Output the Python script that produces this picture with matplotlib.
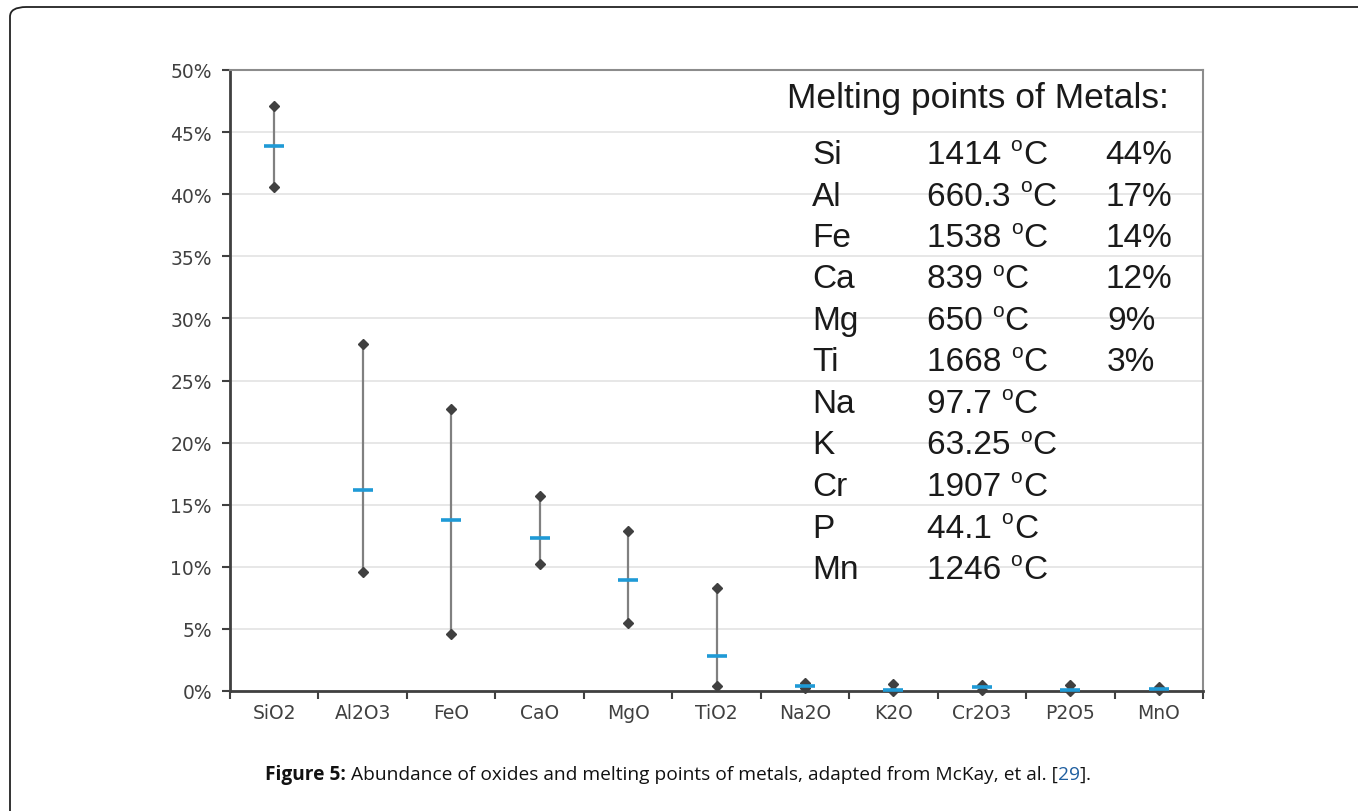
import matplotlib
matplotlib.use('Agg')
import matplotlib.pyplot as plt
from matplotlib.patches import FancyBboxPatch
import numpy as np

# oxide abundance ranges (percent)
oxides = ['SiO2', 'Al2O3', 'FeO', 'CaO', 'MgO', 'TiO2', 'Na2O', 'K2O', 'Cr2O3', 'P2O5', 'MnO']
ox_min = [40.6, 9.6, 4.6, 10.2, 5.5, 0.4, 0.25, 0.0, 0.1, 0.0, 0.05]
ox_mean = [43.85, 16.2, 13.8, 12.3, 8.95, 2.8, 0.4, 0.1, 0.3, 0.1, 0.15]
ox_max = [47.1, 27.9, 22.7, 15.7, 12.9, 8.3, 0.65, 0.55, 0.5, 0.5, 0.35]

y_ticks = [0, 5, 10, 15, 20, 25, 30, 35, 40, 45, 50]

# melting point table
metals = ['Si', 'Al', 'Fe', 'Ca', 'Mg', 'Ti', 'Na', 'K', 'Cr', 'P', 'Mn']
melt_temps = ['1414', '660.3', '1538', '839', '650', '1668', '97.7', '63.25', '1907', '44.1', '1246']
metal_pct = ['44%', '17%', '14%', '12%', '9%', '3%', '', '', '', '', '']

W, H = 1358, 812

fig = plt.figure(figsize=(W / 100, H / 100), dpi=100)
renderer = fig.canvas.get_renderer()

def px(x, y):
    return x / W, 1 - y / H

# outer frame (cut off at right and bottom)
x0, y0 = px(10, 8)
frame = FancyBboxPatch((x0, -0.1), 1.2, y0 + 0.1, boxstyle='round,pad=0,rounding_size=0.012',
                       transform=fig.transFigure, fill=False, edgecolor='#222222', linewidth=1.3)
fig.patches.append(frame)

ax = fig.add_axes([230 / W, 1 - 692 / H, (1203 - 230) / W, (692 - 71) / H])

xs = np.arange(len(oxides))
ax.vlines(xs, ox_min, ox_max, color='#808080', linewidth=1.6, zorder=3)
ax.plot(xs, ox_max, linestyle='none', marker='D', markersize=5, color='#404040', zorder=4, clip_on=False)
ax.plot(xs, ox_min, linestyle='none', marker='D', markersize=5, color='#404040', zorder=4, clip_on=False)
ax.plot(xs, ox_mean, linestyle='none', marker='_', markersize=14, markeredgewidth=2.6,
        color='#1f9ad6', zorder=5, clip_on=False)

ax.set_xlim(-0.5, len(oxides) - 0.5)
ax.set_ylim(0, 50)
ax.set_yticks(y_ticks)
ax.set_yticklabels([f'{t}%' for t in y_ticks])
ax.set_xticks(xs)
ax.set_xticklabels(oxides)
ax.set_xticks(np.arange(-0.5, len(oxides)), minor=True)
ax.tick_params(axis='x', which='major', length=0, pad=9)
ax.tick_params(axis='x', which='minor', length=6, width=1.5, color='#404040', direction='out')
ax.tick_params(axis='y', length=6, width=1.5, color='#404040', direction='out', pad=7)
for lab in ax.get_xticklabels() + ax.get_yticklabels():
    lab.set_fontsize(13.5)
    lab.set_color('#404040')
    lab.set_family('DejaVu Sans')

ax.yaxis.grid(True, color='#e3e3e3', linewidth=1.2)
ax.set_axisbelow(True)
ax.spines['left'].set_color('#404040')
ax.spines['left'].set_linewidth(2)
ax.spines['bottom'].set_color('#404040')
ax.spines['bottom'].set_linewidth(2)
ax.spines['top'].set_color('#8c8c8c')
ax.spines['top'].set_linewidth(1.5)
ax.spines['right'].set_color('#8c8c8c')
ax.spines['right'].set_linewidth(1.5)

# melting points text
txt_kw = dict(family='Liberation Sans', color='#1a1a1a', va='baseline')
fig.text(*px(787, 108), 'Melting points of Metals:', fontsize=25.5, **txt_kw)
for i, (m, t, p) in enumerate(zip(metals, melt_temps, metal_pct)):
    yy = 164 + i * 41.5
    fig.text(*px(812, yy), m, fontsize=24, **txt_kw)
    # temperature with a small raised "o" before C
    num = fig.text(*px(927, yy), t + ' ', fontsize=24, **txt_kw)
    xo = 927 + num.get_window_extent(renderer).width
    deg = fig.text(*px(xo, yy - 13), 'o', fontsize=15, **txt_kw)
    xc = xo + deg.get_window_extent(renderer).width + 1
    fig.text(*px(xc, yy), 'C', fontsize=24, **txt_kw)
    if len(p) > 2:
        fig.text(*px(1172, yy), p, fontsize=24, ha='right', **txt_kw)
    elif p:
        fig.text(*px(1107, yy), p, fontsize=24, ha='left', **txt_kw)

# caption, drawn in pieces so the reference number can be blue
cap_pieces = [('Figure 5:', 'bold', '#111111'),
              (' Abundance of oxides and melting points of metals, adapted from McKay, et al. [', 'normal', '#111111'),
              ('29', 'normal', '#1f5fa0'),
              (']', 'normal', '#111111'),
              ('.', 'normal', '#111111')]
cx = 265
cyy = 1 - 780 / H
for s, wgt, col in cap_pieces:
    t = fig.text(cx / W, cyy, s, fontsize=13.8, family='Open Sans', fontweight=wgt,
                 color=col, va='baseline', ha='left')
    cx += t.get_window_extent(renderer).width

fig.savefig('out.png', dpi=100)
